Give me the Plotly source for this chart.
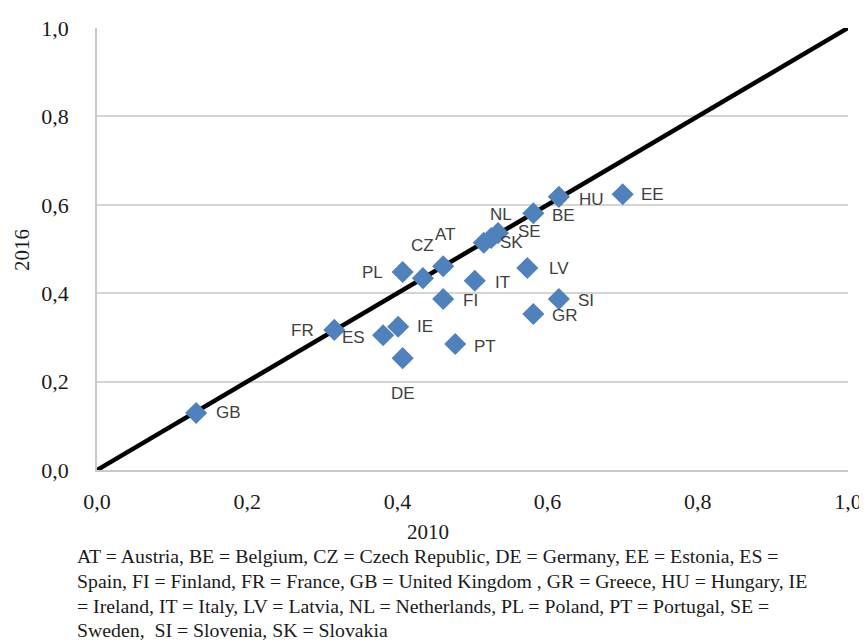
import plotly.graph_objects as go

countries = ["GB", "FR", "ES", "IE", "DE", "PL", "CZ", "AT", "FI", "IT", "PT",
             "SK", "NL", "SE", "LV", "GR", "BE", "HU", "SI", "EE"]
x2010 = [0.132, 0.316, 0.381, 0.401, 0.407, 0.407, 0.434, 0.461, 0.461, 0.503, 0.477,
         0.515, 0.525, 0.534, 0.573, 0.581, 0.581, 0.615, 0.615, 0.700]
y2016 = [0.129, 0.317, 0.305, 0.324, 0.253, 0.448, 0.434, 0.461, 0.387, 0.428, 0.285,
         0.514, 0.525, 0.536, 0.457, 0.353, 0.581, 0.618, 0.387, 0.624]
# label offsets in pixels (dx, dy) relative to point
label_dx = [32, -32, -30, 27, 0, -30, 0, 2, 27, 28, 30,
            28, 10, 31, 32, 32, 30, 33, 27, 30]
label_dy = [0, 1, 2, 0, 35, 1, -33, -32, 2, 2, 2,
            0, -23, -2, 0, 2, 2, 3, 2, 0]
diag_x = [0, 1]
diag_y = [0, 1]
tick_vals = [0, 0.2, 0.4, 0.6, 0.8, 1.0]
tick_text = ["0,0", "0,2", "0,4", "0,6", "0,8", "1,0"]
footnote = ["AT = Austria, BE = Belgium, CZ = Czech Republic, DE = Germany, EE = Estonia, ES =",
            "Spain, FI = Finland, FR = France, GB = United Kingdom , GR = Greece, HU = Hungary, IE",
            "= Ireland, IT = Italy, LV = Latvia, NL = Netherlands, PL = Poland, PT = Portugal, SE =",
            "Sweden,  SI = Slovenia, SK = Slovakia"]

# page has an 8px body margin; work in screen pixels and convert
OFF = 8
W, H = 867 - OFF, 644 - OFF
X0, X1 = 97 - OFF, 848 - OFF      # plot area left/right (figure px)
Y1, Y0 = 28 - OFF, 470 - OFF      # plot area top/bottom (figure px)
L, R, T, B = X0, W - X1, Y1, H - Y0
plot_w = X1 - X0
plot_h = Y0 - Y1


def px(sx):
    return (sx - OFF - X0) / plot_w


def py(sy):
    return (Y0 - (sy - OFF)) / plot_h


fig = go.Figure()
fig.add_trace(go.Scatter(x=diag_x, y=diag_y, mode="lines",
                         line=dict(color="black", width=4.5), hoverinfo="skip",
                         showlegend=False, cliponaxis=False))
fig.add_trace(go.Scatter(x=x2010, y=y2016, mode="markers", text=countries,
                         marker=dict(symbol="diamond", size=17, color="#4f81bd"),
                         showlegend=False))

for c, x, y, dx, dy in zip(countries, x2010, y2016, label_dx, label_dy):
    fig.add_annotation(x=x, y=y, text=c, showarrow=True, arrowcolor="rgba(0,0,0,0)",
                       ax=dx, ay=dy, axref="pixel", ayref="pixel",
                       font=dict(family="Liberation Sans, Arial", size=17, color="#404040"))

tick_font = dict(family="Liberation Serif, Times New Roman", size=22, color="#1a1a1a")
fig.update_xaxes(range=[0, 1], tickvals=tick_vals, ticktext=tick_text, showgrid=False,
                 showline=True, linecolor="#c8c8c8", linewidth=1.5, zeroline=False,
                 tickfont=tick_font, ticks="", ticklabelstandoff=11, fixedrange=True,
                 automargin=False)
fig.update_yaxes(range=[0, 1], tickvals=tick_vals, ticktext=tick_text, showgrid=True,
                 gridcolor="#d4d4d4", gridwidth=1.5, showline=True, linecolor="#c8c8c8",
                 linewidth=1.5, zeroline=False, tickfont=tick_font, ticks="",
                 ticklabelstandoff=22, fixedrange=True, automargin=False)

title_font = dict(family="Liberation Serif, Times New Roman", size=21, color="#1a1a1a")
fig.add_annotation(text="2010", xref="paper", yref="paper", x=px(428), y=py(532),
                   xanchor="center", yanchor="middle", showarrow=False, font=title_font,
                   borderpad=0)
fig.add_annotation(text="2016", xref="paper", yref="paper", x=px(22), y=py(250),
                   xanchor="center", yanchor="middle", showarrow=False, textangle=-90,
                   font=title_font)

foot_font = dict(family="Liberation Serif, Times New Roman", size=19.8, color="#1a1a1a")
for i, line in enumerate(footnote):
    fig.add_annotation(text=line, xref="paper", yref="paper",
                       x=px(76), y=py(556 + i * 24.8),
                       xanchor="left", yanchor="middle", showarrow=False, font=foot_font,
                       borderpad=0)

fig.update_layout(width=W, height=H, margin=dict(l=L, r=R, t=T, b=B, autoexpand=False),
                  plot_bgcolor="white", paper_bgcolor="white")

fig.write_html("out.html")
